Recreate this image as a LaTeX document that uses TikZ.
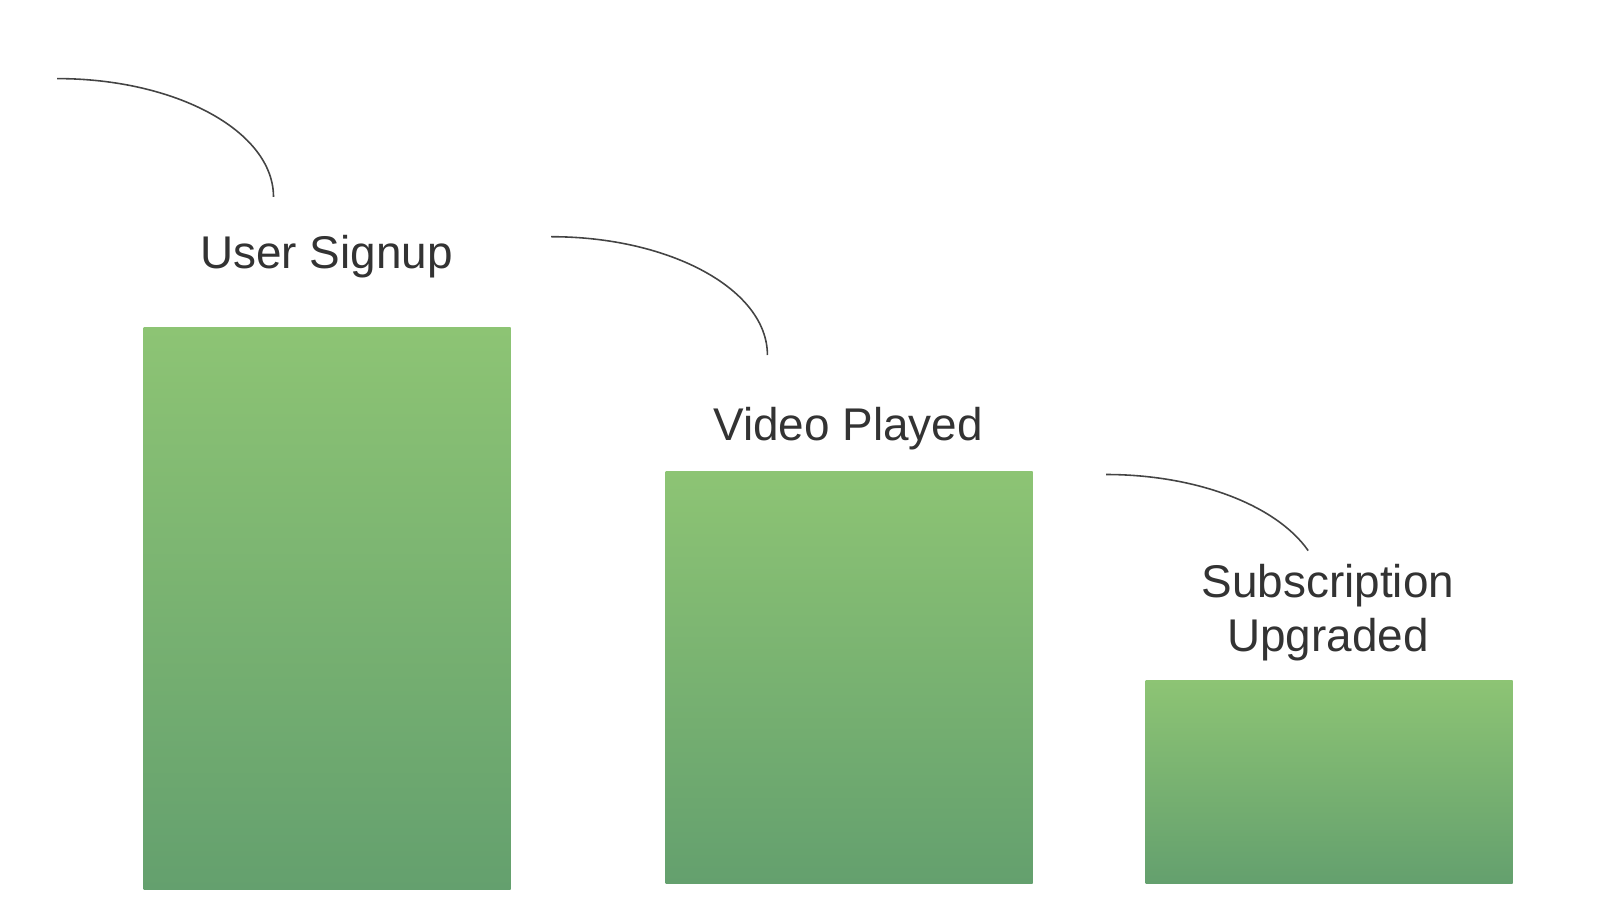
\documentclass[tikz,border=0pt]{standalone}
\usepackage{fontspec}
\setmainfont{Liberation Sans}
\usetikzlibrary{positioning}

\definecolor{bartop}{RGB}{141,196,116}
\definecolor{barbot}{RGB}{100,160,110}
\definecolor{txtgray}{RGB}{51,51,51}
\definecolor{linegray}{RGB}{68,68,68}

\tikzset{
	bar/.style={rectangle, inner sep=0pt, minimum width=3.67cm, anchor=south west,
		top color=bartop, bottom color=barbot},
	lbl/.style={text=txtgray, font=\fontsize{13.05}{15.4}\selectfont, align=center, inner sep=0pt},
	swoop/.style={draw=linegray, line width=0.45pt}
}

\begin{document}
\begin{tikzpicture}
\useasboundingbox (0,0) rectangle (16,9.2);
\def\rx{2.164}
\def\ry{1.183}

% bars
\node[bar, minimum height=5.62cm] (bar1) at (1.43,0.30) {};
\node[bar, minimum height=4.12cm] (bar2) at (6.65,0.363) {};
\node[bar, minimum height=2.03cm] (bar3) at (11.45,0.363) {};

% labels
\node[lbl, anchor=base] (signup) at (3.265,6.52) {User Signup};
\node[lbl, anchor=base] (played) at (8.48,4.80) {Video Played};
\node[lbl] (upgraded) at (13.28,3.07) {Subscription\\Upgraded};

% curves
\coordinate (c1) at (0.571,8.414);
\coordinate (c2) at (5.51,6.833);
\coordinate (c3) at (11.06,4.455);

\foreach \s in {1,2} {
	\draw[swoop] (c\s) arc[start angle=90, end angle=0, x radius=\rx, y radius=\ry];
};
\draw[swoop] (c3) arc[start angle=90, end angle=20.9, x radius=\rx, y radius=\ry];
\end{tikzpicture}
\end{document}
